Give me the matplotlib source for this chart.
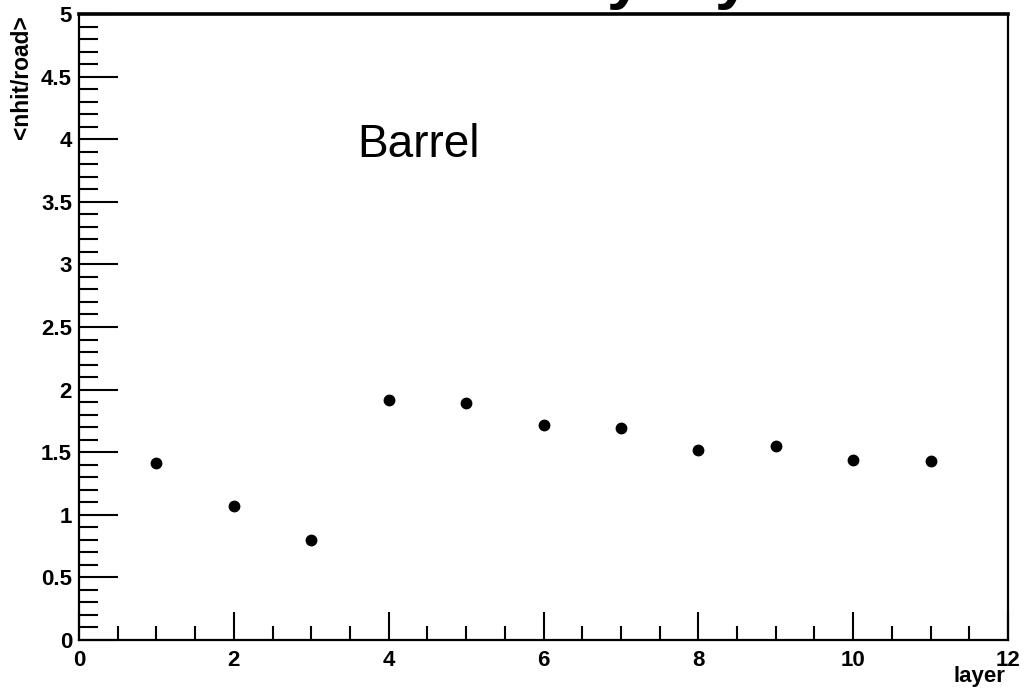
import matplotlib
matplotlib.use("Agg")
import matplotlib.pyplot as plt
from matplotlib.ticker import MultipleLocator

layers = [1, 2, 3, 4, 5, 6, 7, 8, 9, 10, 11]
nhit_per_road = [1.41, 1.07, 0.80, 1.92, 1.89, 1.72, 1.69, 1.52, 1.55, 1.44, 1.43]
title_text = "<nhit/road> by layer"
region_label = "Barrel"
x_label = "layer"
y_label = "<nhit/road>"

plt.rcParams['font.family'] = ['Liberation Sans', 'DejaVu Sans']

W, H = 1024, 692
fig = plt.figure(figsize=(W / 100, H / 100), dpi=100)
ax = fig.add_axes([79 / W, 1 - 640 / H, (1008 - 79) / W, (640 - 14) / H])

ax.plot(layers, nhit_per_road, 'o', color='black', markersize=7.5, linestyle='none')

ax.set_xlim(0, 12)
ax.set_ylim(0, 5)
ax.xaxis.set_major_locator(MultipleLocator(2))
ax.xaxis.set_minor_locator(MultipleLocator(0.5))
ax.yaxis.set_major_locator(MultipleLocator(0.5))
ax.yaxis.set_minor_locator(MultipleLocator(0.1))

def fmt(v, pos):
    return f"{v:g}"
ax.xaxis.set_major_formatter(plt.FuncFormatter(fmt))
ax.yaxis.set_major_formatter(plt.FuncFormatter(fmt))

ax.tick_params(axis='both', which='both', direction='in', top=False, right=False,
               width=1.5, color='black')
ax.tick_params(axis='x', which='major', length=20, pad=7, labelsize=16)
ax.tick_params(axis='x', which='minor', length=10)
ax.tick_params(axis='y', which='major', length=28, pad=5, labelsize=16)
ax.tick_params(axis='y', which='minor', length=14)
for lbl in ax.get_xticklabels() + ax.get_yticklabels():
    lbl.set_fontweight('bold')

for side in ['left', 'bottom', 'right']:
    ax.spines[side].set_linewidth(1.6)
ax.spines['top'].set_linewidth(2.6)

# axis titles (ROOT style: at the end of the axes)
fig.text(1005 / W, 1 - 666 / H, x_label, ha='right', va='top', fontsize=16, fontweight='bold')
fig.text(33 / W, 1 - 15 / H, y_label, ha='right', va='top', rotation=90,
         fontsize=16.4, fontweight='bold')

# in-plot label
ax.text(357 / W, 1 - 157 / H, region_label, transform=fig.transFigure,
        ha='left', va='baseline', fontsize=33)

# title, mostly cut off above the figure (only descenders visible)
fig.text(197 / W, 1 + 3 / H, title_text, ha='left', va='baseline',
         fontsize=46.6, fontweight='bold')

fig.savefig("out.png", dpi=100)
